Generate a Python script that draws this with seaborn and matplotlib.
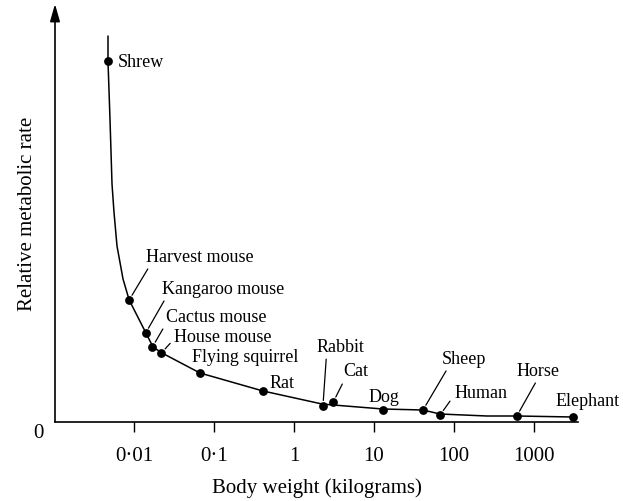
import matplotlib
matplotlib.use("Agg")
import matplotlib.pyplot as plt
import matplotlib.transforms as mtransforms
import seaborn as sns
import pandas as pd

# ---- data ----
animals = ["Shrew", "Harvest mouse", "Kangaroo mouse", "Cactus mouse", "House mouse",
           "Flying squirrel", "Rat", "Rabbit", "Cat", "Dog", "Sheep", "Human",
           "Horse", "Elephant"]
weight_kg = [0.0047, 0.0087, 0.014, 0.017, 0.022, 0.067, 0.41, 2.3, 3.1, 13,
             41, 67, 610, 3100]
rate = [36.1, 12.2, 8.9, 7.5, 6.9, 4.9, 3.1, 1.6, 2.0, 1.2, 1.2, 0.7, 0.6, 0.5]

# hand-drawn trend curve
curve_w = [0.00473, 0.00473, 0.00501, 0.00531, 0.00562, 0.00613, 0.00729, 0.0087,
           0.0141, 0.0173, 0.0224, 0.0668, 0.41, 2.24, 3.1, 12.9, 41, 66.8,
           258, 613, 3072]
curve_rate = [38.6, 36.1, 30.3, 23.8, 21.0, 17.6, 14.3, 12.2, 8.9, 7.5, 6.9, 4.9,
              3.1, 1.8, 1.7, 1.3, 1.2, 0.8, 0.6, 0.6, 0.5]

tick_vals = [0.01, 0.1, 1, 10, 100, 1000]
tick_labels = ["0\u00b701", "0\u00b71", "1", "10", "100", "1000"]

# label placement (offset in pixels from point, leader line relpos or None)
label_style = {
    "Shrew": ((10, -1), None),
    "Harvest mouse": ((17, 44), (0.04, 0.0)),
    "Kangaroo mouse": ((16, 45), (0.04, 0.0)),
    "Cactus mouse": ((14, 31), (0.0, 0.1)),
    "House mouse": ((13, 16), (0.0, 0.4)),
    "Flying squirrel": ((-8, 16), None),
    "Rat": ((6, 9), None),
    "Rabbit": ((-6, 60), (0.2, 0.0)),
    "Cat": ((10, 31), (0.05, 0.0)),
    "Dog": ((-15, 13), None),
    "Sheep": ((19, 52), (0.15, 0.0)),
    "Human": ((14, 23), (0.0, 0.3)),
    "Horse": ((0, 46), (0.49, 0.0)),
    "Elephant": ((-18, 17), None),
}

df = pd.DataFrame({"animal": animals, "weight": weight_kg, "rate": rate})
curve = pd.DataFrame({"weight": curve_w, "rate": curve_rate})

sns.set_theme(style="white")
plt.rcParams["font.family"] = ["Liberation Serif", "DejaVu Serif"]

fig = plt.figure(figsize=(6.23, 5.02), dpi=100)
ax = fig.add_axes([55 / 623, 1 - 423 / 502, 523 / 623, 418 / 502])

sns.lineplot(data=curve, x="weight", y="rate", ax=ax, color="black", lw=1.1,
             sort=False, estimator=None)
sns.scatterplot(data=df, x="weight", y="rate", ax=ax, color="black", s=40,
                edgecolor="black", linewidth=0, zorder=5)

ax.set_xscale("log")
ax.set_xlim(10 ** -2.9875, 10 ** 3.55)
ax.set_ylim(0, 41.8)

for name, w, r in zip(animals, weight_kg, rate):
    off, relpos = label_style[name]
    kw = {}
    if relpos is not None:
        kw["arrowprops"] = dict(arrowstyle="-", color="black", lw=0.9,
                                relpos=relpos, shrinkA=1, shrinkB=4)
    ax.annotate(name, xy=(w, r), xytext=off, textcoords="offset pixels",
                ha="left", va="center", fontsize=13, color="black", **kw)

ax.set_xticks(tick_vals)
ax.set_xticklabels(tick_labels)
ax.xaxis.set_minor_locator(matplotlib.ticker.NullLocator())
ax.tick_params(axis="x", direction="out", length=7, width=1.0, pad=10,
               labelsize=15, colors="black", bottom=True)
ax.set_yticks([0])
ax.set_yticklabels(["0"])
ax.tick_params(axis="y", length=0, pad=8, labelsize=15, colors="black")
shift = mtransforms.ScaledTranslation(0, -6 / 72, fig.dpi_scale_trans)
for lab in ax.get_yticklabels():
    lab.set_transform(lab.get_transform() + shift)

ax.set_xlabel("Body weight (kilograms)", fontsize=15, labelpad=9, color="black")
ax.set_ylabel("Relative metabolic rate", fontsize=15, color="black")
ax.yaxis.set_label_coords(-0.034, 0.5)

for s in ["top", "right", "left"]:
    ax.spines[s].set_visible(False)
ax.spines["bottom"].set_color("black")
ax.spines["bottom"].set_linewidth(1.2)

ax.annotate("", xy=(0, 1.0), xytext=(0, 0), xycoords="axes fraction",
            textcoords="axes fraction",
            arrowprops=dict(arrowstyle="-|>,head_length=0.7,head_width=0.2",
                            color="black", lw=1.2, mutation_scale=15,
                            shrinkA=0, shrinkB=0))

fig.savefig("out.png", dpi=100, facecolor="white")
